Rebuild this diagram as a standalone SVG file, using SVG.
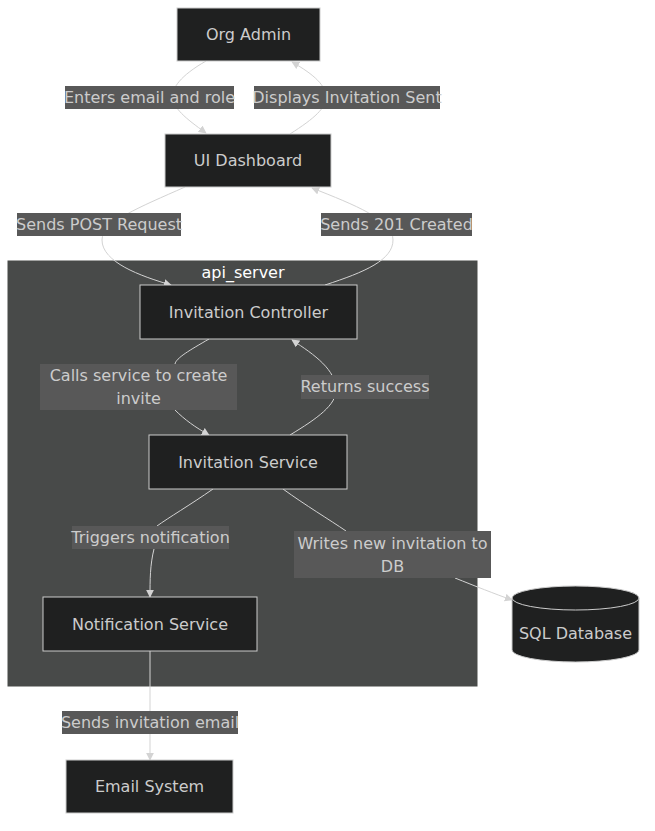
<svg xmlns="http://www.w3.org/2000/svg" width="655" height="831" viewBox="0 0 655 831">
<style>
text{font-family:"DejaVu Sans","Liberation Sans",sans-serif;font-size:16px;text-anchor:middle;dominant-baseline:central}
.node rect,.node path.c{fill:#1f2020;stroke:#cccccc;stroke-width:1}
.node text{fill:#cccccc}
.edge{fill:none;stroke:#d3d3d3;stroke-width:1}
.lbl rect{fill:#585858}
.lbl text{fill:#cccccc}
.cl{fill:#484a49;stroke:#484a49}
</style>
<defs>
<marker id="ah" viewBox="0 0 10 10" refX="9" refY="5" markerWidth="8" markerHeight="8" markerUnits="userSpaceOnUse" orient="auto">
<path d="M0 0L10 5L0 10z" fill="#d3d3d3"/>
</marker>
</defs>
<rect width="655" height="831" fill="#ffffff"/>
<g id="api_server">
<rect class="cl" x="8" y="261" width="469" height="425"/>
<text x="243" y="272" fill="#ffffff">api_server</text>
</g>
<g id="connectors">
<path class="edge" d="M206 61C180 76 172 88 173 97C173 108 185 118 206 133" marker-end="url(#ah)"/>
<path class="edge" d="M290 134C315 118 326 108 326 97C326 86 315 75 292 62" marker-end="url(#ah)"/>
<path class="edge" d="M185 187C140 207 102 222 102 240C102 262 140 276 171 285" marker-end="url(#ah)"/>
<path class="edge" d="M325 285C365 272 393 260 393 240C393 220 355 205 312 188" marker-end="url(#ah)"/>
<path class="edge" d="M209 339C190 350 176 358 175 364M175 410C185 420 195 427 209 435" marker-end="url(#ah)"/>
<path class="edge" d="M290 435C318 418 336 405 336 390C336 370 315 355 292 340" marker-end="url(#ah)"/>
<path class="edge" d="M213 489C190 505 168 518 157 526M154 549C150 565 150 580 150 597" marker-end="url(#ah)"/>
<path class="edge" d="M283 489C305 505 330 520 346 531M455 578C475 586 495 594 512 600" marker-end="url(#ah)"/>
<path class="edge" d="M150 651L150 760" marker-end="url(#ah)"/>
</g>
<g id="edge-labels">
<g class="lbl"><rect x="65" y="86" width="169" height="23"/><text x="149.5" y="97.5">Enters email and role</text></g>
<g class="lbl"><rect x="254" y="86" width="186" height="23"/><text x="347" y="97.5">Displays Invitation Sent</text></g>
<g class="lbl"><rect x="17" y="213" width="164" height="23"/><text x="99" y="224.5">Sends POST Request</text></g>
<g class="lbl"><rect x="321" y="213" width="151" height="23"/><text x="396.5" y="224.5">Sends 201 Created</text></g>
<g class="lbl"><rect x="40" y="364" width="197" height="46"/><text x="138.5" y="375.5">Calls service to create</text><text x="138.5" y="398.5">invite</text></g>
<g class="lbl"><rect x="301" y="375" width="128" height="24"/><text x="365" y="386.5">Returns success</text></g>
<g class="lbl"><rect x="72" y="526" width="157" height="23"/><text x="150.5" y="537.5">Triggers notification</text></g>
<g class="lbl"><rect x="294" y="531" width="197" height="47"/><text x="392.5" y="543">Writes new invitation to</text><text x="392.5" y="566">DB</text></g>
<g class="lbl"><rect x="62" y="711" width="176" height="23"/><text x="150" y="722.5">Sends invitation email</text></g>
</g>
<g id="OrgAdmin" class="node"><rect x="177" y="8" width="143" height="53"/><text x="248.5" y="34.5">Org Admin</text></g>
<g id="UIDashboard" class="node"><rect x="165" y="134" width="166" height="53"/><text x="248" y="160.5">UI Dashboard</text></g>
<g id="InvitationController" class="node"><rect x="140" y="285" width="217" height="54"/><text x="248.5" y="312">Invitation Controller</text></g>
<g id="InvitationService" class="node"><rect x="149" y="435" width="198" height="54"/><text x="248" y="462">Invitation Service</text></g>
<g id="NotificationService" class="node"><rect x="43" y="597" width="214" height="54"/><text x="150" y="624">Notification Service</text></g>
<g id="EmailSystem" class="node"><rect x="66" y="760" width="167" height="53"/><text x="149.5" y="786.5">Email System</text></g>
<g id="SQLDatabase" class="node">
<path class="c" d="M512 598A63.5 12 0 0 1 639 598L639 650A63.5 12 0 0 1 512 650Z"/>
<path class="c" d="M512 598A63.5 12 0 0 0 639 598" fill="none"/>
<text x="575.5" y="633.5">SQL Database</text>
</g>
</svg>
